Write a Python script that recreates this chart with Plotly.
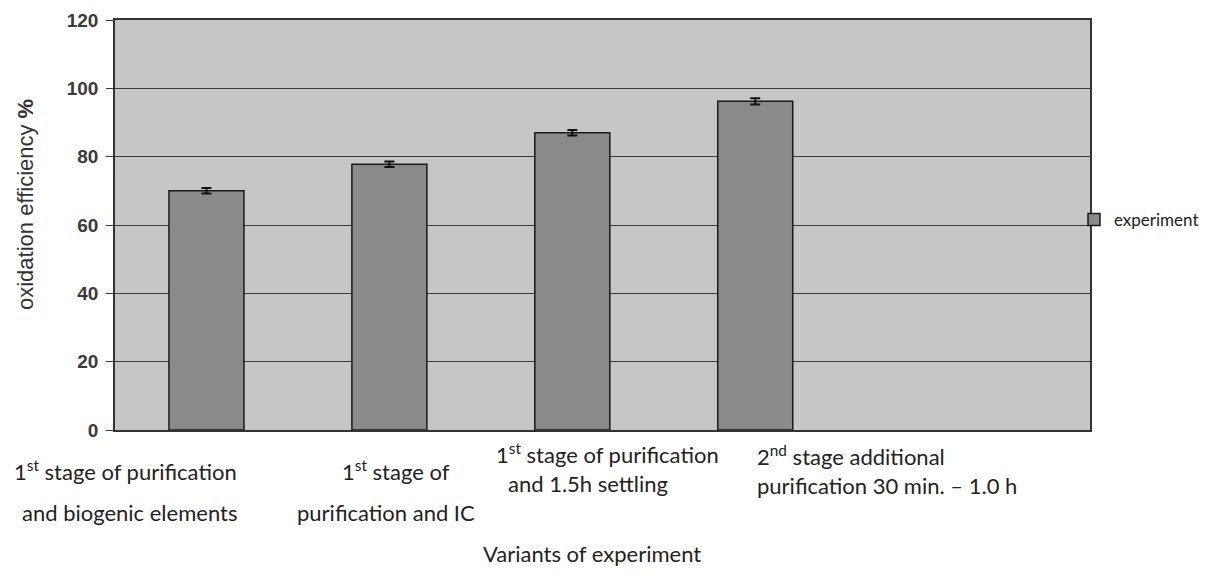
import plotly.graph_objects as go

# ---- data ----
positions = [0, 1, 2, 3]
values = [70.0, 77.8, 87.0, 96.2]
errors = [0.8, 0.8, 0.8, 0.9]
series_name = "experiment"
y_ticks = [0, 20, 40, 60, 80, 100, 120]
label_lines = [
    ["1<sup>st</sup> stage of purification", "and biogenic elements"],
    ["1<sup>st</sup> stage of", "purification and IC"],
    ["1<sup>st</sup> stage of purification", "and 1.5h settling"],
    ["2<sup>nd</sup> stage additional", "purification 30 min. \u2013 1.0 h"],
]
x_title = "Variants of experiment"
y_title = "oxidation efficiency <b>%</b>"

# ---- geometry (window pixels; page body has an 8px margin) ----
OFF = 8
WIN_W, WIN_H = 1211, 577
W, H = WIN_W - 2 * OFF, WIN_H - 2 * OFF
PL, PR, PT, PB = 115, 1090, 20, 430          # plot area in window px
L, T = PL - OFF, PT - OFF
R = W - (PR - OFF)
B = H - (PB - OFF)
pw, ph = PR - PL, PB - PT

def px_x(px):
    return (px - PL) / pw

def px_y(py):
    return (PB - py) / ph

label_pos = [
    # (x px, anchor, [y px line1, y px line2])
    ([125, 129], "center", [470, 512]),
    ([396, 386], "center", [470, 512]),
    ([607, 588], "center", [453, 483]),
    ([755, 755], "left", [455, 485]),
]

fig = go.Figure()
fig.add_trace(go.Bar(
    x=positions, y=values, name=series_name,
    width=0.41,
    marker=dict(color="#8a8a8a", line=dict(color="#1a1a1a", width=1.5)),
    error_y=dict(type="data", array=errors, visible=True, color="#111111", thickness=2, width=5),
    showlegend=True,
))

annotations = []
cat_font = dict(family="Lato, Carlito, 'Open Sans', sans-serif", size=22, color="#222222")
for lines, (xps, anchor, ys) in zip(label_lines, label_pos):
    for txt, xp, yp in zip(lines, xps, ys):
        annotations.append(dict(
            text=txt, xref="paper", yref="paper",
            x=px_x(xp), y=px_y(yp), xanchor=anchor, yanchor="middle",
            showarrow=False, font=cat_font,
        ))
annotations.append(dict(
    text=x_title, xref="paper", yref="paper",
    x=px_x(592), y=px_y(553), xanchor="center", yanchor="middle",
    showarrow=False, font=cat_font,
))
annotations.append(dict(
    text=y_title, xref="paper", yref="paper", textangle=-90,
    x=px_x(26), y=px_y(205), xanchor="center", yanchor="middle",
    showarrow=False,
    font=dict(family="Liberation Sans, Arial, sans-serif", size=22, color="#333333"),
))

fig.update_layout(
    width=W, height=H,
    margin=dict(l=L, r=R, t=T, b=B, autoexpand=False),
    paper_bgcolor="white",
    plot_bgcolor="#c6c6c6",
    annotations=annotations,
    legend=dict(x=px_x(1074), xanchor="left", y=px_y(220), yanchor="middle",
                font=dict(family="Lato, 'Open Sans', sans-serif", size=17, color="#222222"),
                bgcolor="rgba(0,0,0,0)", itemwidth=30),
    xaxis=dict(range=[-0.5, 4.83], showticklabels=False, showgrid=False,
               zeroline=False, showline=True, linecolor="#333333", linewidth=1.5,
               mirror=True, ticks=""),
    yaxis=dict(range=[0, 120], tickvals=y_ticks,
               tickfont=dict(family="Liberation Sans, Arial, sans-serif", size=19,
                             color="#3a3a3a", weight="bold"),
               showgrid=True, gridcolor="#3a3a3a", gridwidth=1,
               zeroline=False, showline=True, linecolor="#333333", linewidth=1.5, mirror=True,
               ticks="outside", ticklen=7, tickcolor="#333333", ticklabelstandoff=4),
    bargap=0.5,
)

fig.write_html("out.html")
